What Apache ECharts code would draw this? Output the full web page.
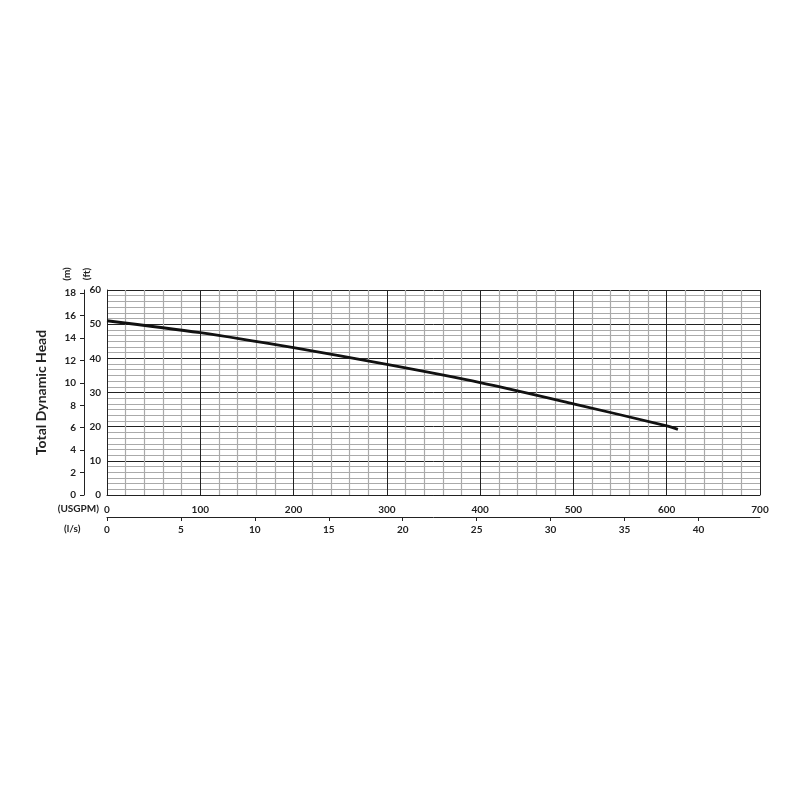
<!DOCTYPE html>
<html>
<head>
<meta charset="utf-8">
<script src="https://cdn.jsdelivr.net/npm/echarts@6/dist/echarts.min.js"></script>
<style>
  html, body { margin: 0; padding: 0; background: #fff; }
  #chart { width: 800px; height: 800px; }
</style>
</head>
<body>
<div id="chart"></div>
<script>
// pump curve data
var flowUsgpm = [0, 100, 200, 300, 400, 500, 600, 612];
var headFt = [51.0, 47.5, 43.1, 38.2, 32.9, 26.7, 20.2, 19.2];

var usgpmMax = 700;
var ftMax = 60;
var lsPerUsgpm = 1 / 15.850323;
var mPerFt = 0.3048;

var fontName = 'Lato';
var majorColor = '#222';
var minorColor = '#aaaaaa';

var myChart = echarts.init(document.getElementById('chart'));

var points = flowUsgpm.map(function (q, i) { return [q, headFt[i]]; });

var lbl = { color: '#222', fontFamily: fontName, fontWeight: 'bold', fontSize: 10 };

var option = {
  backgroundColor: '#fff',
  animation: false,
  grid: { left: 107, right: 40, top: 290, bottom: 305, containLabel: false },
  xAxis: [
    {
      type: 'value', min: 0, max: usgpmMax, interval: 100, position: 'bottom',
      axisLine: { show: true, onZero: false, lineStyle: { color: majorColor, width: 1 } },
      axisTick: { show: false },
      axisLabel: Object.assign({ margin: 10 }, lbl),
      splitLine: { show: true, lineStyle: { color: majorColor, width: 1 } },
      minorTick: { show: false, splitNumber: 5 },
      minorSplitLine: { show: true, lineStyle: { color: minorColor, width: 1.2 } }
    },
    {
      type: 'value', min: 0, max: usgpmMax * lsPerUsgpm, interval: 5, position: 'bottom', offset: 22,
      axisLine: { show: true, onZero: false, lineStyle: { color: majorColor, width: 1 } },
      axisTick: { show: true, length: 4, lineStyle: { color: majorColor } },
      axisLabel: Object.assign({ margin: 8, showMaxLabel: false }, lbl),
      splitLine: { show: false }
    }
  ],
  yAxis: [
    {
      type: 'value', min: 0, max: ftMax, interval: 10, position: 'left',
      axisLine: { show: true, onZero: false, lineStyle: { color: majorColor, width: 1 } },
      axisTick: { show: false },
      axisLabel: Object.assign({ margin: 6 }, lbl),
      splitLine: { show: true, lineStyle: { color: majorColor, width: 1 } },
      minorTick: { show: false, splitNumber: 6 },
      minorSplitLine: { show: true, lineStyle: { color: minorColor, width: 1.2 } }
    },
    {
      type: 'value', min: 0, max: ftMax * mPerFt, interval: 2, position: 'left', offset: 23,
      axisLine: { show: true, onZero: false, lineStyle: { color: majorColor, width: 1 } },
      axisTick: { show: true, length: 4, lineStyle: { color: majorColor } },
      axisLabel: Object.assign({ margin: 8, showMaxLabel: false }, lbl),
      splitLine: { show: false },
      name: 'Total Dynamic Head', nameLocation: 'middle', nameGap: 36,
      nameTextStyle: { color: '#222', fontFamily: fontName, fontWeight: 'bold', fontSize: 14 }
    }
  ],
  graphic: [
    { type: 'text', right: 800 - 99, top: 504, style: { text: '(USGPM)', fill: '#222', font: 'bold 10px Lato' } },
    { type: 'text', left: 64, top: 524, style: { text: '(l/s)', fill: '#222', font: 'bold 10px Lato' } },
    { type: 'text', x: 67, y: 274, rotation: Math.PI / 2, style: { text: '(m)', fill: '#222', font: 'bold 10px Lato', align: 'center', verticalAlign: 'middle' } },
    { type: 'text', x: 87, y: 274, rotation: Math.PI / 2, style: { text: '(ft)', fill: '#222', font: 'bold 10px Lato', align: 'center', verticalAlign: 'middle' } }
  ],
  series: [
    {
      type: 'line', xAxisIndex: 0, yAxisIndex: 0, data: points, smooth: 0.3,
      showSymbol: false, symbol: 'none',
      lineStyle: { color: '#111', width: 2.8 }
    }
  ]
};

myChart.setOption(option);
</script>
</body>
</html>
